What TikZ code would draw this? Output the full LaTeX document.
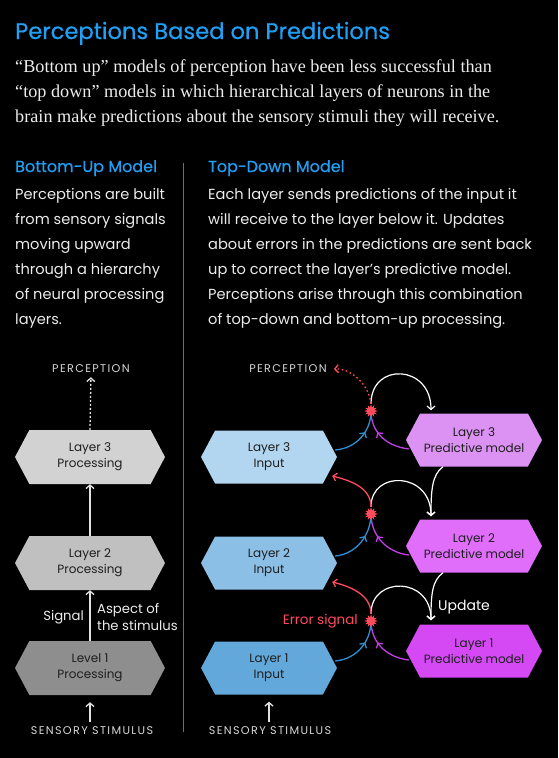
\documentclass[tikz,border=0pt]{standalone}
\usepackage{fontspec}
\setmainfont{Poppins}
\newfontfamily\seriffont{Liberation Serif}
\newfontfamily\capsfont[LetterSpace=12]{Poppins}
\newfontfamily\headfont[FakeBold=0.5]{Poppins}
\usetikzlibrary{arrows.meta,shapes.symbols,shapes.geometric,decorations.markings}
\definecolor{ttlblue}{RGB}{32,160,245}
\definecolor{txtw}{RGB}{236,236,236}
\definecolor{capsc}{RGB}{215,215,215}
\definecolor{divc}{RGB}{110,110,110}
\definecolor{gA}{RGB}{210,210,210}
\definecolor{gB}{RGB}{192,192,192}
\definecolor{gC}{RGB}{142,142,142}
\definecolor{bA}{RGB}{178,214,240}
\definecolor{bB}{RGB}{140,191,229}
\definecolor{bC}{RGB}{98,168,218}
\definecolor{pA}{RGB}{220,146,242}
\definecolor{pB}{RGB}{224,110,251}
\definecolor{pC}{RGB}{213,73,245}
\definecolor{errred}{RGB}{255,75,92}
\definecolor{arrblue}{RGB}{47,143,208}
\definecolor{arrpurp}{RGB}{193,62,230}
\definecolor{lightarr}{RGB}{225,225,225}
\definecolor{hextext}{RGB}{30,30,30}
\begin{document}
\begin{tikzpicture}[x=1pt,y=-1pt,
  >={Straight Barb[length=3.5pt,width=8pt]},
  hexbox/.style={shape=signal, signal to=west and east, signal pointer angle=124,
    minimum height=53pt, inner sep=0pt, align=center, text=hextext,
    font=\fontsize{12}{16}\selectfont},
  desc/.style={anchor=base west, inner sep=0pt, text=txtw, font=\fontsize{14.6}{25}\selectfont},
  intro/.style={anchor=base west, inner sep=0pt, text=txtw, font=\seriffont\fontsize{18.2}{25}\selectfont},
  hdr/.style={anchor=base west, inner sep=0pt, text=ttlblue, font=\headfont\fontsize{16}{20}\selectfont},
  capslbl/.style={inner sep=0pt, text=capsc, font=\capsfont\fontsize{11.2}{13}\selectfont},
  grayarr/.style={->, draw=lightarr, line width=1.3pt},
  whitearr/.style={->, draw=white, line width=1.2pt},
  bluearr/.style={draw=arrblue, line width=1.3pt},
  purparr/.style={draw=arrpurp, line width=1.3pt},
  redarr/.style={->, draw=errred, line width=1.3pt},
  midarrow/.style={postaction=decorate, decoration={markings, mark=at position #1 with {\arrow{>}}}},
  burst/.style={star, star points=12, star point ratio=1.9, fill=errred, draw=none, minimum size=13pt, inner sep=0pt}
]
\fill[black] (0,0) rectangle (558,758);
\useasboundingbox (0,0) rectangle (558,758);

% title and intro
\node[anchor=base west, inner sep=0pt, text=ttlblue, font=\headfont\fontsize{22.6}{28}\selectfont] (title) at (15,39) {Perceptions Based on Predictions};
\node[intro] (introA) at (15,72) {“Bottom up” models of perception have been less successful than};
\node[intro] (introB) at (15,97) {“top down” models in which hierarchical layers of neurons in the};
\node[intro] (introC) at (15,122) {brain make predictions about the sensory stimuli they will receive.};

% headers
\node[hdr] (hdrL) at (15,172) {Bottom-Up Model};
\node[hdr] (hdrR) at (208,172) {Top-Down Model};

% left description
\node[desc] (dl1) at (15,199) {Perceptions are built};
\node[desc] (dl2) at (15,224) {from sensory signals};
\node[desc] (dl3) at (15,249) {moving upward};
\node[desc] (dl4) at (15,274) {through a hierarchy};
\node[desc] (dl5) at (15,299) {of neural processing};
\node[desc] (dl6) at (15,324) {layers.};

% right description
\node[desc] (dr1) at (208,199) {Each layer sends predictions of the input it};
\node[desc] (dr2) at (208,224) {will receive to the layer below it. Updates};
\node[desc] (dr3) at (208,249) {about errors in the predictions are sent back};
\node[desc] (dr4) at (208,274) {up to correct the layer’s predictive model.};
\node[desc] (dr5) at (208,299) {Perceptions arise through this combination};
\node[desc] (dr6) at (208,324) {of top-down and bottom-up processing.};

% divider
\coordinate (divtop) at (183,163);
\coordinate (divbot) at (183,732);
\draw[divc, line width=1pt] (divtop) -- (divbot);

% ---------- left diagram ----------
\node[capslbl] (percL) at (91,369) {PERCEPTION};
\node[hexbox, fill=gA, minimum width=150pt, minimum height=54pt] (lp3) at (90,457) {Layer 3\\Processing};
\node[hexbox, fill=gB, minimum width=150pt, minimum height=54pt] (lp2) at (90,563) {Layer 2\\Processing};
\node[hexbox, fill=gC, minimum width=150pt, minimum height=54pt] (lp1) at (90,668) {Level 1\\Processing};
\node[capslbl] (sensL) at (92,731) {SENSORY STIMULUS};

\draw[grayarr, dash pattern=on 2pt off 2pt, shorten >=4pt] (lp3.north) -- (percL.south);
\draw[grayarr] (lp2.north) -- (lp3.south);
\draw[grayarr] (lp1.north) -- (lp2.south);
\draw[grayarr, shorten >=7pt, shorten <=5pt] (sensL.north -| lp1.south) -- (lp1.south);

\node[anchor=east, inner sep=0pt, text=txtw, font=\fontsize{13.2}{17}\selectfont] (signal) at (84,617) {Signal};
\node[anchor=west, inner sep=0pt, align=left, text=txtw, font=\fontsize{13.2}{17}\selectfont] (aspect) at (97,617) {Aspect of\\the stimulus};

% ---------- right diagram ----------
\node[capslbl] (percR) at (288,369) {PERCEPTION};
\node[hexbox, fill=bA, minimum width=136pt] (in3) at (269,457) {Layer 3\\Input};
\node[hexbox, fill=bB, minimum width=136pt] (in2) at (269,563) {Layer 2\\Input};
\node[hexbox, fill=bC, minimum width=136pt] (in1) at (269,668) {Layer 1\\Input};
\node[hexbox, fill=pA, minimum width=136pt] (pm3) at (474,440) {Layer 3\\Predictive model};
\node[hexbox, fill=pB, minimum width=136pt] (pm2) at (474,546) {Layer 2\\Predictive model};
\node[hexbox, fill=pC, minimum width=136pt] (pm1) at (474,651) {Layer 1\\Predictive model};
\node[capslbl] (sensR) at (270,731) {SENSORY STIMULUS};

\node[burst] (s3) at (371,411) {};
\node[burst] (s2) at (371,514) {};
\node[burst] (s1) at (371,621) {};

\node[anchor=east, inner sep=0pt, text=errred, font=\fontsize{13.5}{16}\selectfont] (errlbl) at (358,621) {Error signal};
\node[anchor=west, inner sep=0pt, text=white, font=\fontsize{14}{16}\selectfont] (updlbl) at (438,607) {Update};

% layer 3 loop
\draw[bluearr, midarrow=0.62] ([shift={(-2,-7)}]in3.east) .. controls +(22,-2) and +(0,20) .. (s3.center);
\draw[purparr, midarrow=0.62] ([shift={(3,9)}]pm3.west) .. controls +(-24,-3) and +(0,20) .. (s3.center);
\draw[whitearr] (s3.north) .. controls +(0,-42) and +(0,-46) .. ([shift={(-43,-3)}]pm3.north);
\draw[redarr, dash pattern=on 1.6pt off 2.6pt] (s3.north) .. controls +(-2,-20) and +(16,-1) .. ([xshift=7pt]percR.east);

% layer 2 loop
\draw[whitearr] ([shift={(-31,0)}]pm3.south) .. controls +(-11,8) and +(0,-26) .. ([shift={(-43,-3)}]pm2.north);
\draw[bluearr, midarrow=0.62] ([shift={(-2,-7)}]in2.east) .. controls +(22,-2) and +(0,20) .. (s2.center);
\draw[purparr, midarrow=0.62] ([shift={(3,9)}]pm2.west) .. controls +(-24,-3) and +(0,20) .. (s2.center);
\draw[whitearr] (s2.north) .. controls +(0,-37) and +(0,-45) .. ([shift={(-43,-3)}]pm2.north);
\draw[redarr] (s2.north) .. controls +(0,-20) and +(16,4) .. ([shift={(-5,19)}]in3.east);

% layer 1 loop
\draw[whitearr] ([shift={(-31,0)}]pm2.south) .. controls +(-11,8) and +(0,-26) .. ([shift={(-43,-4)}]pm1.north);
\draw[bluearr, midarrow=0.62] ([shift={(-2,-7)}]in1.east) .. controls +(22,-2) and +(0,20) .. (s1.center);
\draw[purparr, midarrow=0.62] ([shift={(3,9)}]pm1.west) .. controls +(-24,-3) and +(0,20) .. (s1.center);
\draw[whitearr] (s1.north) .. controls +(0,-38) and +(0,-44) .. ([shift={(-43,-4)}]pm1.north);
\draw[redarr] (s1.north) .. controls +(0,-20) and +(16,4) .. ([shift={(-5,19)}]in2.east);

\node[burst] at (s3) {};
\node[burst] at (s2) {};
\node[burst] at (s1) {};

\draw[grayarr, shorten >=7pt, shorten <=5pt] (sensR.north -| in1.south) -- (in1.south);
\end{tikzpicture}
\end{document}
